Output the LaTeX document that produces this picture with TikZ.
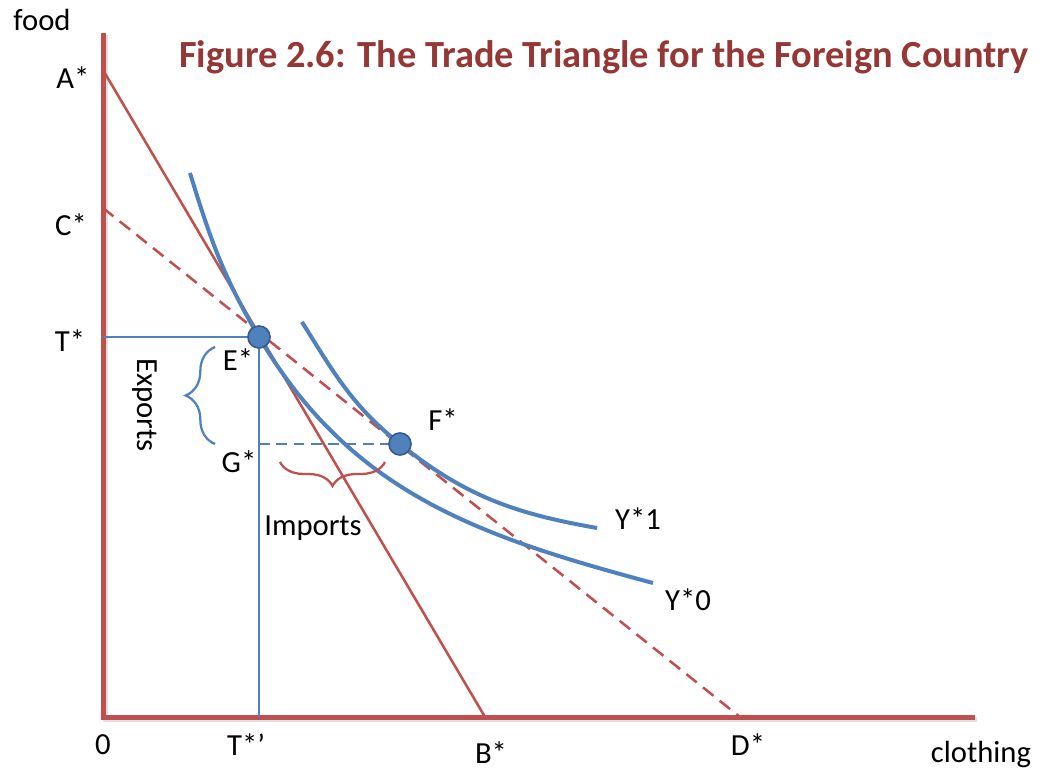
\documentclass[tikz,border=0pt]{standalone}
\usepackage{fontspec}
\setmainfont{Carlito}
\usetikzlibrary{decorations.pathreplacing}
\definecolor{axisred}{HTML}{C0504D}
\definecolor{curveblue}{HTML}{4F81BD}
\definecolor{dotedge}{HTML}{385D8A}
\definecolor{titlered}{HTML}{953735}
\tikzset{
  lbl/.style={font=\fontsize{23}{26}\selectfont, inner sep=0pt},
  budget/.style={axisred, line width=1.9pt},
  icurve/.style={curveblue, line width=3pt},
  dot/.style={circle, fill=curveblue, draw=dotedge, line width=1.3pt, minimum size=16.5pt, inner sep=0pt},
}
\begin{document}
\begin{tikzpicture}[x=0.75pt, y=0.75pt]
    \useasboundingbox (0,0) rectangle (1041,771);
    % points
    \coordinate (O) at (103,54);
    \coordinate (Atop) at (103,738);
    \coordinate (Xend) at (975,54);
    \coordinate (A) at (103,701);
    \coordinate (B) at (485,54);
    \coordinate (C) at (103,563);
    \coordinate (D) at (740,54);
    \coordinate (T) at (103,434);
    \coordinate (E) at (259,434);
    \coordinate (Tp) at (259,54);
    \coordinate (G) at (259,327);
    \coordinate (F) at (400,327);
    % axes
    \draw[black!25, line width=3.75pt, opacity=0.5] ([shift={(2,-2)}]Atop) -- ([shift={(2,-2)}]O) -- ([shift={(2,-2)}]Xend);
    \draw[axisred, line width=3.75pt] (Atop) -- (O) -- (Xend);
    % trade lines
    \draw[budget] (A) -- (B);
    \draw[budget, dash pattern=on 10pt off 6pt] (C) -- (D);
    \draw[curveblue, line width=1.7pt] (T) -- (E) -- (Tp);
    \draw[curveblue, line width=1.9pt, dash pattern=on 8pt off 5pt] (G) -- (F);
    % indifference curves
    \draw[icurve] (190,598) to[out=-73, in=120.6] (E) to[out=-59.4, in=165] (653,188);
    \draw[icurve] (302,449) to[out=-58, in=141.3] (F) to[out=-38.7, in=170] (597,243);
    % braces
    \draw[curveblue, line width=1.7pt, decorate, decoration={brace, amplitude=22pt}] (215,327) -- (215,424);
    \draw[axisred, line width=1.7pt, decorate, decoration={brace, amplitude=18pt}] (385,309) -- (280,309);
    % dots
    \node[dot] (Edot) at (E) {};
    \node[dot] (Fdot) at (F) {};
    % labels
    \node[lbl] (food) at (42,751) {food};
    \node[lbl] (Alab) at (73,693) {A*};
    \node[lbl] (Clab) at (71,546) {C*};
    \node[lbl] (Tlab) at (70,430) {T*};
    \node[lbl] (Elab) at (238,411) {E*};
    \node[lbl] (Glab) at (239,309) {G*};
    \node[lbl] (Flab) at (443,351) {F*};
    \node[lbl] (Y1lab) at (638,252) {Y*1};
    \node[lbl] (Y0lab) at (688,171) {Y*0};
    \node[lbl] (Olab) at (103,26) {0};
    \node[lbl] (Tplab) at (246,26) {T*’};
    \node[lbl] (Blab) at (491,18) {B*};
    \node[lbl] (Dlab) at (748,26) {D*};
    \node[lbl] (cloth) at (981,17) {clothing};
    \node[lbl] (imp) at (313,243) {Imports};
    \node[lbl, rotate=-90] (exp) at (145,366) {Exports};
    \node[font=\bfseries\fontsize{28.8}{32}\selectfont, text=titlered, inner sep=0pt] (title) at (604,714) {Figure 2.6: The Trade Triangle for the Foreign Country};
\end{tikzpicture}
\end{document}
